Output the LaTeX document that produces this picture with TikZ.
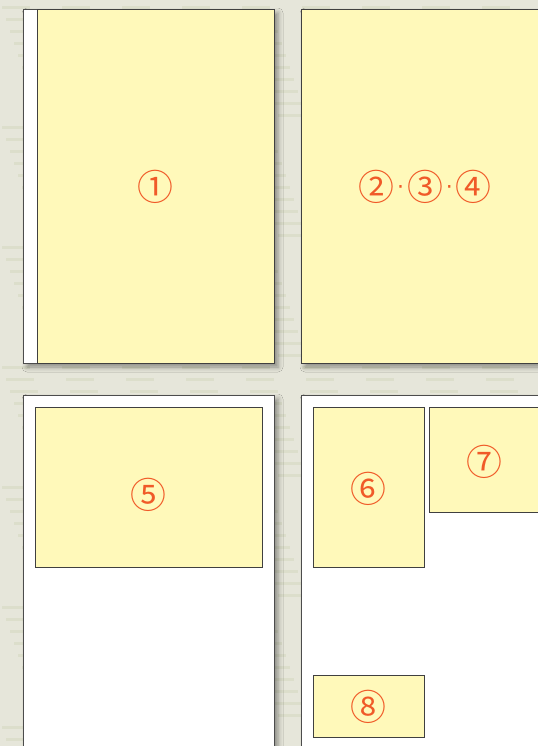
\documentclass[tikz,border=0pt]{standalone}
\usepackage{fontspec}
\newfontfamily\cjk{Noto Sans CJK JP}
\newfontfamily\dejavu{DejaVu Sans}
\usetikzlibrary{shadows.blur}
\definecolor{bg}{HTML}{E6E6DA}
\definecolor{streak}{HTML}{D2D5BA}
\definecolor{note}{HTML}{FFF9BA}
\definecolor{lab}{HTML}{F05A28}
\tikzset{
  page/.style={fill=white,draw=black!70,line width=0.8pt,blur shadow={shadow xshift=4bp,shadow yshift=-4bp,shadow blur radius=5bp,shadow opacity=40}},
  notebox/.style={fill=note,draw=black!75,line width=0.7pt},
  numlabel/.style={text=lab,font=\cjk\fontsize{36}{36}\selectfont,inner sep=0pt}
}
\newcommand{\middot}{\kern3bp\raisebox{6.5bp}{\dejavu\fontsize{22}{22}\selectfont ·}\kern3bp}
\begin{document}
\begin{tikzpicture}[x=1bp,y=-1bp]
\useasboundingbox (0,0) rectangle (538,746);
\fill[bg] (0,0) rectangle (538,746);
% subtle texture streaks
\foreach \yy in {6,18,...,746} {
  \foreach \xx in {0,60,...,540} {
    \fill[streak,opacity=0.45] ({\xx+mod(\yy*7,40)},\yy) rectangle ++(28,3);
  }
}
% pages
\path[page] (23,9) rectangle (274,363);
\path[page] (301,9) rectangle (560,363);
\path[page] (23,395) rectangle (274,770);
\path[page] (301,395) rectangle (560,770);
% yellow boxes
\node[notebox,minimum width=237bp,minimum height=354bp,inner sep=0pt,anchor=north west] (b1) at (37,9) {};
\node[notebox,minimum width=259bp,minimum height=354bp,inner sep=0pt,anchor=north west] (b2) at (301,9) {};
\node[notebox,minimum width=227bp,minimum height=160bp,inner sep=0pt,anchor=north west] (b5) at (35,407) {};
\node[notebox,minimum width=111bp,minimum height=160bp,inner sep=0pt,anchor=north west] (b6) at (313,407) {};
\node[notebox,minimum width=130bp,minimum height=105bp,inner sep=0pt,anchor=north west] (b7) at (429,407) {};
\node[notebox,minimum width=111bp,minimum height=62bp,inner sep=0pt,anchor=north west] (b8) at (313,675) {};
% labels
\node[numlabel] (l1) at (155,187) {①};
\node[numlabel] (l2) at (425,187) {②\middot③\middot④};
\node[numlabel] (l5) at (148,495) {⑤};
\node[numlabel] (l6) at (368,489) {⑥};
\node[numlabel] (l7) at (484,462) {⑦};
\node[numlabel] (l8) at (368,707) {⑧};
\end{tikzpicture}
\end{document}
